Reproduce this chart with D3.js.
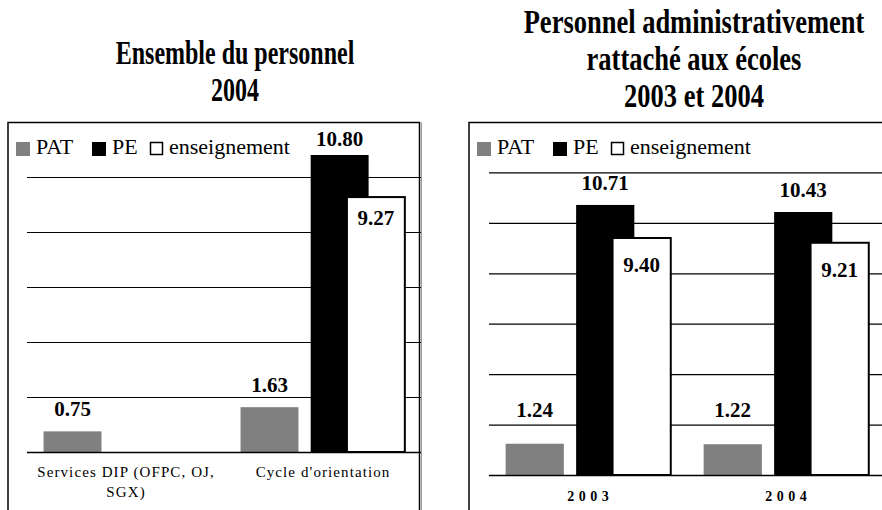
<!DOCTYPE html>
<html>
<head>
<meta charset="utf-8">
<script src="https://cdn.jsdelivr.net/npm/d3@7"></script>
<style>
  body { margin: 0; background: #fff; }
  svg { display: block; }
  text { font-family: "Liberation Serif", "Times New Roman", serif; fill: #000; }
</style>
</head>
<body>
<script>
const width = 882;
const height = 510;

// séries
const seriesNames = ['PAT', 'PE', 'enseignement'];

// panneau de gauche : ensemble du personnel 2004
const leftTitle = ['Ensemble du personnel', '2004'];
const leftCategories = [['Services DIP (OFPC, OJ,', 'SGX)'], ["Cycle d'orientation"]];
const leftPAT = [0.75, 1.63];
const leftPE = [null, 10.80];
const leftEns = [null, 9.27];
const leftTicks = [0, 2, 4, 6, 8, 10];

// panneau de droite : personnel rattaché aux écoles
const rightTitle = ['Personnel administrativement', 'rattaché aux écoles', '2003 et 2004'];
const rightCategories = [['2003'], ['2004']];
const rightPAT = [1.24, 1.22];
const rightPE = [10.71, 10.43];
const rightEns = [9.40, 9.21];
const rightTicks = [0, 2, 4, 6, 8, 10, 12];

const fmt = d3.format('.2f');

const fills = { PAT: '#808080', PE: '#000', enseignement: '#fff' };
// position de chaque barre dans la bande (fraction) ; les barres se chevauchent
const barOffset = { PAT: 0.084, PE: 0.44, enseignement: 0.624 };
const barWidth = 0.294;

const svg = d3.select('body').append('svg')
    .attr('width', width)
    .attr('height', height);

svg.append('rect').attr('width', width).attr('height', height).attr('fill', '#fff');

function drawPanel(p) {
    const g = svg.append('g');

    // titre
    p.title.forEach((line, i) => {
        g.append('text')
            .attr('transform', `translate(${p.titleX}, ${p.titleY + i * 37}) scale(1, ${p.titleStretch})`)
            .attr('text-anchor', 'middle')
            .attr('font-weight', 'bold')
            .attr('font-size', p.titleSize)
            .text(line);
    });

    // cadre
    g.append('path')
        .attr('d', `M${p.frame[0]},${height + 5} V${p.frame[1]} H${p.frame[2]} V${height + 5}`)
        .attr('fill', 'none')
        .attr('stroke', '#000')
        .attr('stroke-width', 1.5);
    if (p.frame[2] < width) {
        g.append('line')
            .attr('x1', p.frame[2] + 2).attr('x2', p.frame[2] + 2)
            .attr('y1', p.frame[1]).attr('y2', height)
            .attr('stroke', '#999').attr('stroke-width', 1);
    }

    const x = d3.scaleBand()
        .domain(p.categories.map((c, i) => i))
        .range([p.x0, p.x1]);

    const y = d3.scaleLinear()
        .domain([0, p.yMax])
        .range([p.y0, p.y1]);

    // quadrillage
    const grid = g.append('g')
        .attr('transform', `translate(${p.x0}, 0)`)
        .call(d3.axisLeft(y).tickValues(p.ticks).tickSize(-(p.x1 - p.x0)).tickFormat(''));
    grid.select('.domain').remove();
    grid.selectAll('line').attr('stroke', '#000').attr('stroke-width', 1.2);

    // barres
    const rows = [];
    p.values.forEach((vals, s) => {
        vals.forEach((v, i) => {
            if (v != null) rows.push({ series: seriesNames[s], cat: i, value: v });
        });
    });

    g.selectAll('rect.bar')
        .data(rows)
        .enter()
        .append('rect')
        .attr('class', 'bar')
        .attr('x', d => x(d.cat) + x.bandwidth() * barOffset[d.series])
        .attr('y', d => y(d.value))
        .attr('width', x.bandwidth() * barWidth)
        .attr('height', d => y(0) - y(d.value))
        .attr('fill', d => fills[d.series])
        .attr('stroke', d => d.series === 'enseignement' ? '#000' : 'none')
        .attr('stroke-width', 2);

    // valeurs
    g.selectAll('text.val')
        .data(rows)
        .enter()
        .append('text')
        .attr('class', 'val')
        .attr('x', d => x(d.cat) + x.bandwidth() * (barOffset[d.series] + barWidth / 2))
        .attr('y', d => y(d.value) + p.labelDy[d.series])
        .attr('text-anchor', 'middle')
        .attr('font-weight', 'bold')
        .attr('font-size', 21)
        .text(d => fmt(d.value));

    // axe des catégories
    const xAxis = g.append('g')
        .attr('transform', `translate(0, ${p.y0})`)
        .call(d3.axisBottom(x).tickSize(0).tickFormat(''));
    xAxis.select('.domain')
        .attr('d', `M${p.x0},0.5H${p.x1}`)
        .attr('stroke', '#000').attr('stroke-width', 1.5);
    xAxis.selectAll('.tick text').remove();
    xAxis.selectAll('.tick')
        .append('text')
        .attr('text-anchor', 'middle')
        .attr('font-size', p.catFont.size)
        .attr('font-weight', p.catFont.weight)
        .attr('letter-spacing', p.catFont.spacing)
        .selectAll('tspan')
        .data(i => p.categories[i])
        .enter()
        .append('tspan')
        .attr('x', p.catFont.spacing / 2)
        .attr('y', (d, j) => p.catDy + j * 20)
        .text(d => d);

    // légende
    const legend = g.append('g')
        .attr('transform', `translate(${p.frame[0]}, 0)`);
    const legX = [8, 84, 142];
    seriesNames.forEach((name, i) => {
        const hollow = name === 'enseignement';
        legend.append('rect')
            .attr('x', legX[i] + (hollow ? 0.5 : 0))
            .attr('y', 142 + (hollow ? 0.5 : 0))
            .attr('width', hollow ? 12 : 14)
            .attr('height', hollow ? 12 : 14)
            .attr('fill', fills[name])
            .attr('stroke', hollow ? '#000' : 'none')
            .attr('stroke-width', 1.5);
        legend.append('text')
            .attr('x', legX[i] + (hollow ? 19 : 20))
            .attr('y', 154)
            .attr('font-size', 22)
            .text(name);
    });
}

drawPanel({
    title: leftTitle, titleX: 235, titleY: 64, titleSize: 24, titleStretch: 1.38,
    frame: [8, 122.5, 419.5],
    x0: 27, x1: 421, y0: 452, y1: 122, yMax: 12,
    categories: leftCategories,
    values: [leftPAT, leftPE, leftEns],
    ticks: leftTicks,
    labelDy: { PAT: -15, PE: -9, enseignement: 28 },
    catFont: { size: 15, weight: 'normal', spacing: 1.1 },
    catDy: 25
});

drawPanel({
    title: rightTitle, titleX: 694, titleY: 33, titleSize: 26.5, titleStretch: 1.28,
    frame: [469, 122.5, width + 10],
    x0: 489, x1: 885, y0: 475, y1: 122, yMax: 14,
    categories: rightCategories,
    values: [rightPAT, rightPE, rightEns],
    ticks: rightTicks,
    labelDy: { PAT: -27, PE: -15, enseignement: 34 },
    catFont: { size: 14, weight: 'bold', spacing: 4.5 },
    catDy: 26
});
</script>
</body>
</html>
